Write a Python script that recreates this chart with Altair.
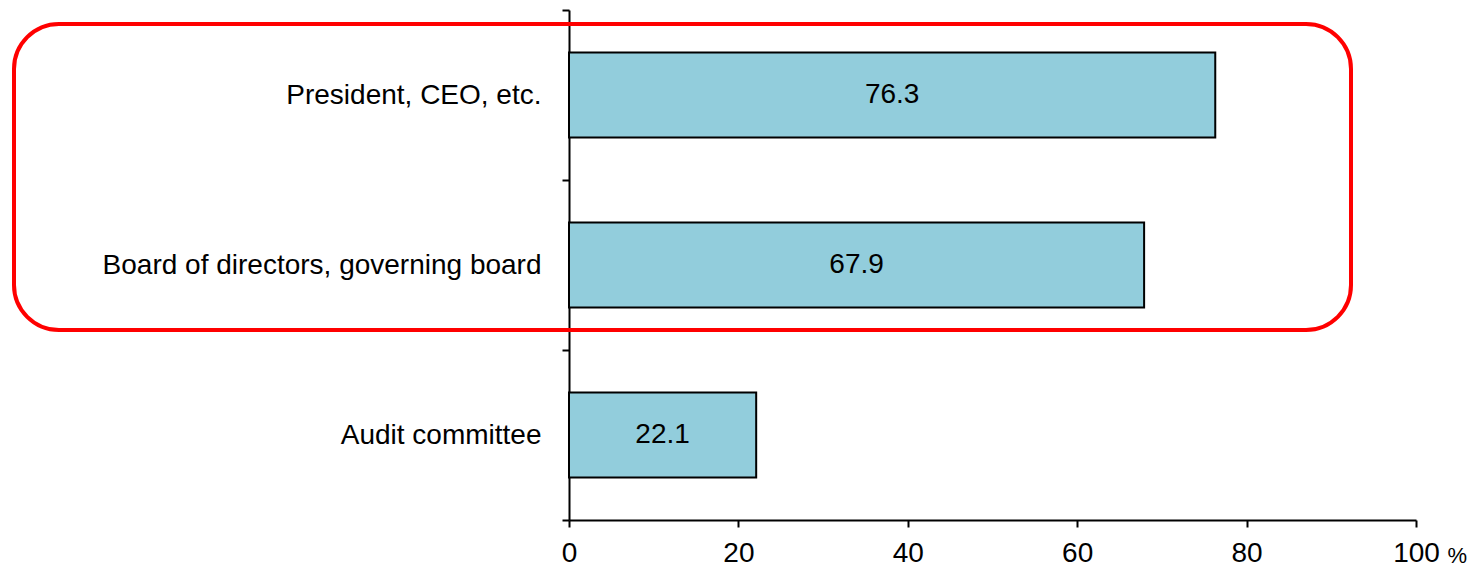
import altair as alt
import pandas as pd

# Share of respondents (%) by body
categories = ["President, CEO, etc.", "Board of directors, governing board", "Audit committee"]
values = [76.3, 67.9, 22.1]
x_ticks = [0, 20, 40, 60, 80, 100]

df = pd.DataFrame({"body": categories, "share": values})
df["mid"] = df["share"] / 2
df["label"] = df["share"].map(lambda v: f"{v:.1f}")

FONT = "Liberation Sans"

y_enc = alt.Y(
    "body:N",
    sort=categories,
    scale=alt.Scale(paddingInner=0, paddingOuter=0),
    axis=alt.Axis(
        title=None,
        tickBand="extent",
        tickSize=7,
        tickColor="black",
        tickWidth=2,
        domainColor="black",
        domainWidth=2,
        labelFont=FONT,
        labelFontSize=28,
        labelColor="black",
        labelPadding=21,
        labelLimit=700,
    ),
)

x_scale = alt.Scale(domain=[0, 100], nice=False)

bars = alt.Chart(df).mark_bar(
    color="#92CDDC", stroke="black", strokeWidth=2, size=85
).encode(
    x=alt.X(
        "share:Q",
        scale=x_scale,
        axis=alt.Axis(
            values=x_ticks,
            grid=False,
            title="%",
            titleFont=FONT,
            titleFontSize=22,
            titleFontWeight="normal",
            titleColor="black",
            titleAlign="left",
            titleBaseline="alphabetic",
            titleAnchor="start",
            titleX=878,
            titleY=42,
            tickSize=7,
            tickColor="black",
            tickWidth=2,
            domainColor="black",
            domainWidth=2,
            labelFont=FONT,
            labelFontSize=28,
            labelColor="black",
            labelPadding=12,
            labelFlush=False,
        ),
    ),
    y=y_enc,
)

labels = alt.Chart(df).mark_text(
    font=FONT, fontSize=28, color="black", baseline="middle", align="center"
).encode(
    x=alt.X("mid:Q", scale=x_scale),
    y=alt.Y("body:N", sort=categories),
    text="label:N",
)

# Rounded frame highlighting the two top bodies
frame = alt.Chart(pd.DataFrame({"k": [0]})).mark_rect(
    fillOpacity=0, stroke="#FF0000", strokeWidth=4, cornerRadius=45
).encode(
    x=alt.value(-555),
    x2=alt.value(782),
    y=alt.value(14),
    y2=alt.value(320),
)

chart = alt.layer(bars, labels, frame).properties(
    width=847,
    height=510,
    background="white",
    padding={"left": 569, "top": 10, "right": 60, "bottom": 49},
    autosize=alt.AutoSizeParams(type="none"),
).configure_view(strokeWidth=0, stroke="transparent")

chart.save("out.html", embed_options={"renderer": "svg", "actions": False})
